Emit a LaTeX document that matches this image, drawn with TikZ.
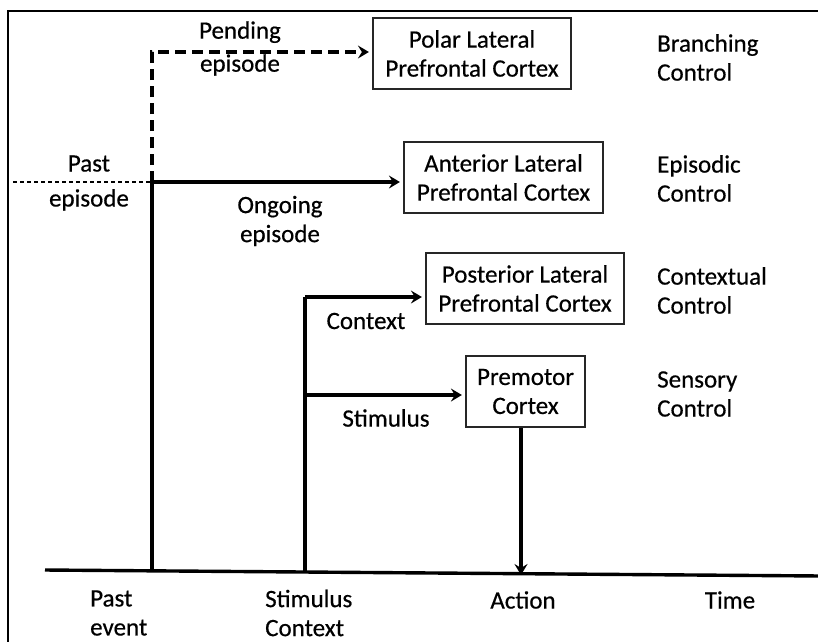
\documentclass[tikz,border=0pt]{standalone}
\usepackage{fontspec}
\setmainfont{Carlito}[UprightFeatures={FakeBold=0.5}]
\usetikzlibrary{arrows.meta}
\begin{document}
\begin{tikzpicture}[x=1pt,y=-1pt,
  every node/.style={font=\fontsize{25}{29}\selectfont, inner sep=0pt},
  region/.style={draw=black!85, line width=2.2pt, align=center, minimum height=71pt},
  lbl/.style={align=center},
  ctl/.style={align=left, anchor=west},
  tip/.style={-{Stealth[length=11pt,width=13pt,inset=4pt]}, shorten >=3pt},
  flow/.style={line width=3.4pt, tip},
  wire/.style={line width=3.4pt},
  pend/.style={line width=3.4pt, dash pattern=on 11pt off 6pt},
  past/.style={line width=2.4pt, dash pattern=on 4pt off 3pt}]
\useasboundingbox (0,0) rectangle (818,641);
% frame
\draw[line width=2pt] (8,645) -- (8,11) -- (822,11);

% brain regions
\node[region, minimum width=198pt] (polar) at (472,53.5) {Polar Lateral\\Prefrontal Cortex};
\node[region, minimum width=199pt] (ant) at (503.5,177.5) {Anterior Lateral\\Prefrontal Cortex};
\node[region, minimum width=198pt] (post) at (525,288.5) {Posterior Lateral\\Prefrontal Cortex};
\node[region, minimum width=119pt] (pm) at (525.5,391.5) {Premotor\\Cortex};

% control levels
\node[ctl] (cb) at (657,57.5) {Branching\\Control};
\node[ctl] (ce) at (657,178.5) {Episodic\\Control};
\node[ctl] (cc) at (657,290.5) {Contextual\\Control};
\node[ctl] (cs) at (657,394) {Sensory\\Control};

% time axis
\coordinate (t0) at (45,570);
\coordinate (t1) at (822,576);
\draw[wire] (t0) -- (t1);

\coordinate (pe) at (152,571);
\coordinate (sc) at (305,572);
\coordinate (pj) at (152,182);
\coordinate (pt) at (152,52);
\coordinate (pl) at (13,182);
\coordinate (cj) at (305,297);
\coordinate (sj) at (305,395);
\coordinate (ac) at (521,573);

% past event: ongoing and pending episodes
\draw[past] (pl) -- (pj);
\draw[wire] (pe) -- (pj);
\draw[flow] (pj) -- (ant.west |- pj);
\draw[pend, tip] (pj) -- (pt) -- (polar.west |- pt);

% stimulus context
\draw[wire] (sc) -- (cj);
\draw[flow] (cj) -- (post.west |- cj);
\draw[flow] (sj) -- (pm.west |- sj);

% action
\draw[flow] (pm.south -| ac) -- ([yshift=-5pt]ac);

% labels
\node[lbl] (lpend) at (240,48.5) {Pending\\[4pt]episode};
\node[lbl] (lpast) at (89,183) {Past\\[6pt]episode};
\node[lbl] (long) at (280,221) {Ongoing\\episode};
\node[lbl] (lctx) at (366,321) {Context};
\node[lbl] (lstim) at (386,418) {Stimulus};

\node[lbl, align=left, anchor=west] (bpe) at (90,613) {Past\\event};
\node[lbl, align=left, anchor=west] (bsc) at (265,613) {Stimulus\\Context};
\node[lbl] (bac) at (523,600) {Action};
\node[lbl] (bti) at (730,600) {Time};
\end{tikzpicture}
\end{document}
